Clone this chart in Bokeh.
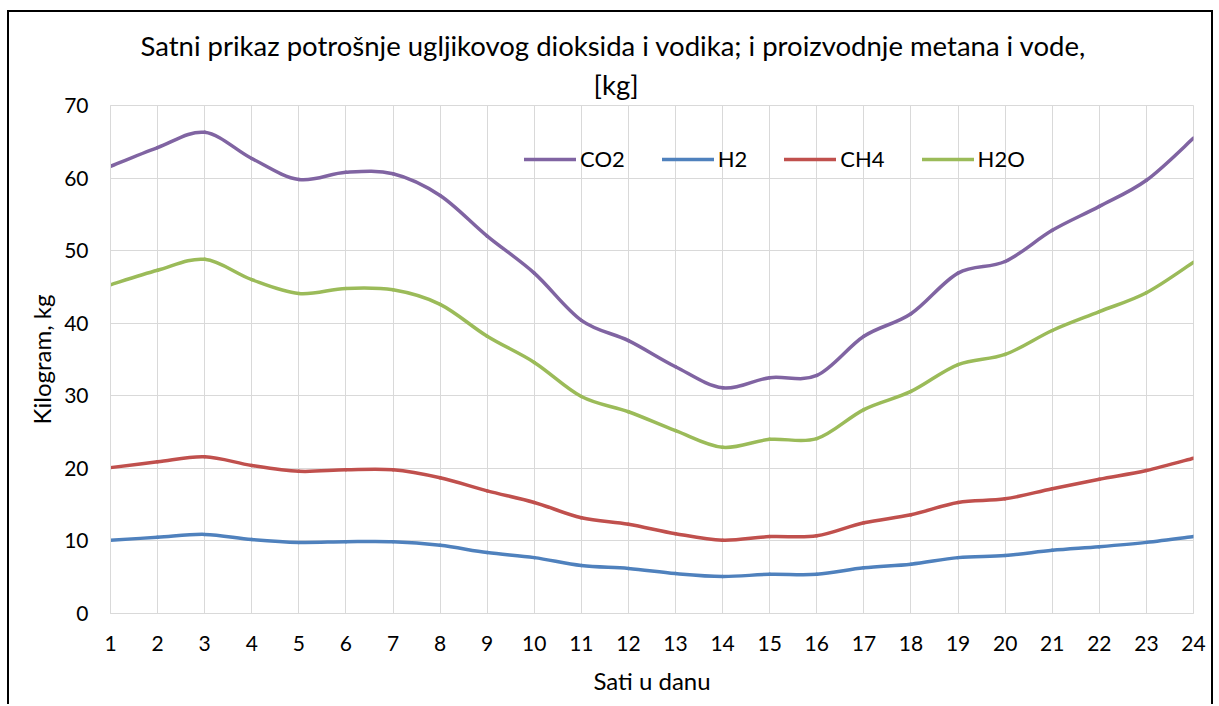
from bokeh.plotting import figure
from bokeh.models import Legend, LegendItem, FixedTicker, Range1d, ColumnDataSource, Title
from bokeh.embed import file_html
from bokeh.resources import INLINE

hours = list(range(1, 25))
co2 = [61.6, 64.2, 66.3, 62.7, 59.8, 60.8, 60.6, 57.6, 52.0, 46.9, 40.4, 37.6,
       34.0, 31.1, 32.5, 32.8, 38.2, 41.3, 46.9, 48.5, 52.8, 56.1, 59.7, 65.5]
h2 = [10.1, 10.5, 10.9, 10.2, 9.8, 9.9, 9.9, 9.4, 8.4, 7.7, 6.6, 6.2,
      5.5, 5.1, 5.4, 5.4, 6.3, 6.8, 7.7, 8.0, 8.7, 9.2, 9.8, 10.6]
ch4 = [20.1, 20.9, 21.6, 20.4, 19.6, 19.8, 19.8, 18.7, 16.9, 15.3, 13.2, 12.3,
       11.0, 10.1, 10.6, 10.7, 12.5, 13.6, 15.3, 15.8, 17.2, 18.5, 19.7, 21.4]
h2o = [45.3, 47.3, 48.8, 46.0, 44.1, 44.8, 44.6, 42.6, 38.2, 34.6, 29.9, 27.8,
       25.2, 22.9, 24.0, 24.1, 28.1, 30.6, 34.3, 35.7, 39.0, 41.6, 44.2, 48.4]

series_names = ["CO2", "H2", "CH4", "H2O"]
series_values = [co2, h2, ch4, h2o]
series_colors = ["#8064A2", "#4F81BD", "#C0504D", "#9BBB59"]
y_ticks = [0, 10, 20, 30, 40, 50, 60, 70]

title_line1 = "Satni prikaz potrošnje ugljikovog dioksida i vodika; i proizvodnje metana i vode,"
title_line2 = "[kg]"
x_label = "Sati u danu"
y_label = "Kilogram, kg"

FONT = "Lato"


def bezier_source(xs, ys, t=1.0 / 6.0):
    n = len(xs)
    d = dict(x0=[], y0=[], x1=[], y1=[], cx0=[], cy0=[], cx1=[], cy1=[])
    for i in range(n - 1):
        im = max(i - 1, 0)
        ip2 = min(i + 2, n - 1)
        d["x0"].append(xs[i]); d["y0"].append(ys[i])
        d["x1"].append(xs[i + 1]); d["y1"].append(ys[i + 1])
        d["cx0"].append(xs[i] + (xs[i + 1] - xs[im]) * t)
        d["cy0"].append(ys[i] + (ys[i + 1] - ys[im]) * t)
        d["cx1"].append(xs[i + 1] - (xs[ip2] - xs[i]) * t)
        d["cy1"].append(ys[i + 1] - (ys[ip2] - ys[i]) * t)
    return ColumnDataSource(d)


p = figure(width=1206, height=694, output_backend="svg", toolbar_location=None,
           x_range=Range1d(1, 24), y_range=Range1d(0, 70),
           min_border_left=101, min_border_right=22, min_border_top=93, min_border_bottom=93,
           styles={"border-top": "2px solid black", "border-left": "2px solid black",
                   "border-right": "2px solid black",
                   "margin-left": "7px", "margin-top": "10px"})
p.title = None
p.outline_line_color = "#d9d9d9"
p.background_fill_color = "white"
p.border_fill_color = "white"

p.xgrid.ticker = FixedTicker(ticks=hours)
p.ygrid.ticker = FixedTicker(ticks=y_ticks)
p.grid.grid_line_color = "#d9d9d9"
p.grid.grid_line_width = 1

p.xaxis.ticker = FixedTicker(ticks=hours)
p.yaxis.ticker = FixedTicker(ticks=y_ticks)
for ax in (p.xaxis[0], p.yaxis[0]):
    ax.axis_line_color = "#d9d9d9"
    ax.major_tick_line_color = None
    ax.minor_tick_line_color = None
    ax.major_tick_out = 0
    ax.major_tick_in = 0
    ax.major_label_text_font = FONT
    ax.major_label_text_font_size = "21px"
    ax.major_label_text_color = "black"
    ax.axis_label_text_font = FONT
    ax.axis_label_text_font_size = "24px"
    ax.axis_label_text_font_style = "normal"
    ax.axis_label_text_color = "black"
p.xaxis.axis_label = x_label
p.yaxis.axis_label = y_label
p.xaxis.major_label_standoff = 22
p.yaxis.major_label_standoff = 22
p.xaxis.axis_label_standoff = 12
p.yaxis.axis_label_standoff = 5

legend_items = []
for name, vals, col in zip(series_names, series_values, series_colors):
    src = bezier_source(hours, vals)
    p.bezier(x0="x0", y0="y0", x1="x1", y1="y1", cx0="cx0", cy0="cy0", cx1="cx1", cy1="cy1",
             source=src, line_color=col, line_width=3.5, line_cap="round")
    r = p.line(x=hours[:1], y=vals[:1], line_color=col, line_width=3.5, line_cap="round")
    legend_items.append(LegendItem(label=name, renderers=[r]))

legend = Legend(items=legend_items, orientation="horizontal", location=(414, 441),
                glyph_width=52, glyph_height=20, label_height=20, label_standoff=4,
                spacing=37, padding=0, margin=0,
                label_text_font=FONT, label_text_font_size="22px", label_text_color="black",
                background_fill_alpha=0, border_line_color=None)
p.add_layout(legend, "center")

p.add_layout(Title(text=title_line2, align="left", offset=483, text_font=FONT,
                   text_font_size="27.5px", text_font_style="normal", text_color="black",
                   standoff=9), "above")
p.add_layout(Title(text=title_line1, align="left", offset=30, text_font=FONT,
                   text_font_size="27.5px", text_font_style="normal", text_color="black",
                   standoff=0), "above")

open("out.html", "w").write(file_html(p, INLINE))
